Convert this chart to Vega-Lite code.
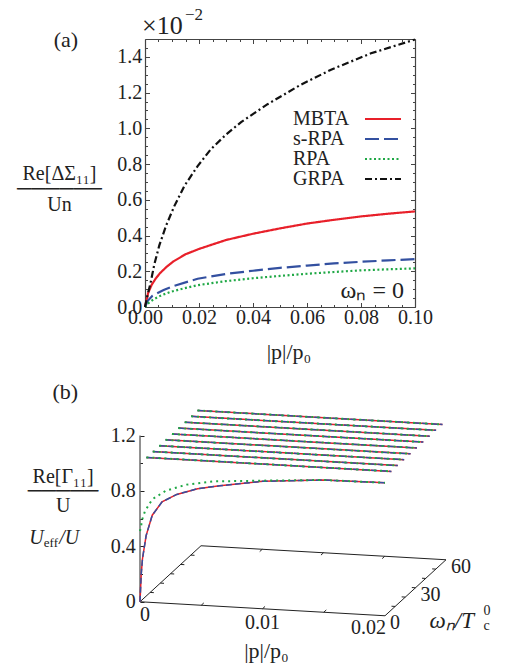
{
"$schema": "https://vega.github.io/schema/vega-lite/v6.json",
"padding": {"left": 16, "top": 6, "right": 5, "bottom": 5},
"spacing": 18,
"config": {"font": "Liberation Serif", "view": {"stroke": null},
  "axis": {"labelFont": "Liberation Serif", "titleFont": "Liberation Serif", "labelFontSize": 20, "labelColor": "#222", "titleColor": "#222", "titleFontWeight": "normal", "grid": false, "domainColor": "#444", "tickColor": "#444", "domainWidth": 1.2, "tickWidth": 1},
  "legend": {"labelFont": "Liberation Serif"},
  "text": {"font": "Liberation Serif", "color": "#222"}},
"resolve": {"scale": {"color": "independent", "strokeDash": "independent"}, "legend": {"color": "independent", "strokeDash": "independent"}},
"datasets": {
"a": [
{"s":"MBTA","p":0,"y":0},{"s":"MBTA","p":0.0012,"y":0.08},{"s":"MBTA","p":0.0025,"y":0.125},{"s":"MBTA","p":0.004,"y":0.16},{"s":"MBTA","p":0.0056,"y":0.19},{"s":"MBTA","p":0.008,"y":0.225},{"s":"MBTA","p":0.0105,"y":0.255},{"s":"MBTA","p":0.015,"y":0.295},{"s":"MBTA","p":0.02,"y":0.325},{"s":"MBTA","p":0.03,"y":0.375},{"s":"MBTA","p":0.04,"y":0.41},{"s":"MBTA","p":0.05,"y":0.44},{"s":"MBTA","p":0.06,"y":0.467},{"s":"MBTA","p":0.07,"y":0.488},{"s":"MBTA","p":0.08,"y":0.507},{"s":"MBTA","p":0.09,"y":0.522},{"s":"MBTA","p":0.1,"y":0.535},
{"s":"s-RPA","p":0,"y":0},{"s":"s-RPA","p":0.001,"y":0.035},{"s":"s-RPA","p":0.0028,"y":0.063},{"s":"s-RPA","p":0.0069,"y":0.095},{"s":"s-RPA","p":0.0109,"y":0.119},{"s":"s-RPA","p":0.0195,"y":0.158},{"s":"s-RPA","p":0.03,"y":0.185},{"s":"s-RPA","p":0.04,"y":0.203},{"s":"s-RPA","p":0.05,"y":0.219},{"s":"s-RPA","p":0.06,"y":0.232},{"s":"s-RPA","p":0.07,"y":0.244},{"s":"s-RPA","p":0.08,"y":0.253},{"s":"s-RPA","p":0.09,"y":0.261},{"s":"s-RPA","p":0.1,"y":0.268},
{"s":"RPA","p":0,"y":0},{"s":"RPA","p":0.0015,"y":0.025},{"s":"RPA","p":0.0034,"y":0.045},{"s":"RPA","p":0.006,"y":0.065},{"s":"RPA","p":0.0096,"y":0.085},{"s":"RPA","p":0.0145,"y":0.105},{"s":"RPA","p":0.0195,"y":0.122},{"s":"RPA","p":0.03,"y":0.145},{"s":"RPA","p":0.04,"y":0.161},{"s":"RPA","p":0.05,"y":0.174},{"s":"RPA","p":0.06,"y":0.186},{"s":"RPA","p":0.07,"y":0.196},{"s":"RPA","p":0.08,"y":0.205},{"s":"RPA","p":0.09,"y":0.211},{"s":"RPA","p":0.1,"y":0.216},
{"s":"GRPA","p":0,"y":0},{"s":"GRPA","p":0.001,"y":0.07},{"s":"GRPA","p":0.002,"y":0.13},{"s":"GRPA","p":0.0034,"y":0.235},{"s":"GRPA","p":0.0053,"y":0.345},{"s":"GRPA","p":0.0078,"y":0.455},{"s":"GRPA","p":0.0109,"y":0.566},{"s":"GRPA","p":0.0146,"y":0.678},{"s":"GRPA","p":0.0195,"y":0.789},{"s":"GRPA","p":0.0244,"y":0.883},{"s":"GRPA","p":0.03,"y":0.965},{"s":"GRPA","p":0.0356,"y":1.035},{"s":"GRPA","p":0.0454,"y":1.135},{"s":"GRPA","p":0.0578,"y":1.245},{"s":"GRPA","p":0.0689,"y":1.328},{"s":"GRPA","p":0.0837,"y":1.42},{"s":"GRPA","p":0.1,"y":1.497}
],
"b": [
{"k":"b","g":"f","p":0,"w":0,"z":0},{"k":"b","g":"f","p":0.02,"w":0,"z":0},
{"k":"b","g":"r","p":0.02,"w":0,"z":0},{"k":"b","g":"r","p":0.02,"w":60,"z":0},
{"k":"b","g":"bk","p":0.02,"w":60,"z":0},{"k":"b","g":"bk","p":0,"w":60,"z":0},
{"k":"b","g":"l","p":0,"w":60,"z":0},{"k":"b","g":"l","p":0,"w":0,"z":0},
{"k":"b","g":"v","p":0,"w":0,"z":0},{"k":"b","g":"v","p":0,"w":0,"z":1.2},
{"k":"b","g":"tf1","p":0.005,"w":0,"z":0},{"k":"b","g":"tf1","p":0.005,"w":2.5,"z":0},
{"k":"b","g":"tf2","p":0.01,"w":0,"z":0},{"k":"b","g":"tf2","p":0.01,"w":2.5,"z":0},
{"k":"b","g":"tf3","p":0.015,"w":0,"z":0},{"k":"b","g":"tf3","p":0.015,"w":2.5,"z":0},
{"k":"b","g":"tb1","p":0.005,"w":60,"z":0},{"k":"b","g":"tb1","p":0.005,"w":57.5,"z":0},
{"k":"b","g":"tb2","p":0.01,"w":60,"z":0},{"k":"b","g":"tb2","p":0.01,"w":57.5,"z":0},
{"k":"b","g":"tb3","p":0.015,"w":60,"z":0},{"k":"b","g":"tb3","p":0.015,"w":57.5,"z":0},
{"k":"b","g":"tl1","p":0,"w":10,"z":0},{"k":"b","g":"tl1","p":0.0003,"w":10,"z":0},
{"k":"b","g":"tl2","p":0,"w":20,"z":0},{"k":"b","g":"tl2","p":0.0003,"w":20,"z":0},
{"k":"b","g":"tl3","p":0,"w":30,"z":0},{"k":"b","g":"tl3","p":0.0003,"w":30,"z":0},
{"k":"b","g":"tl4","p":0,"w":40,"z":0},{"k":"b","g":"tl4","p":0.0003,"w":40,"z":0},
{"k":"b","g":"tl5","p":0,"w":50,"z":0},{"k":"b","g":"tl5","p":0.0003,"w":50,"z":0},
{"k":"b","g":"tr1","p":0.02,"w":10,"z":0},{"k":"b","g":"tr1","p":0.0197,"w":10,"z":0},
{"k":"b","g":"tr2","p":0.02,"w":20,"z":0},{"k":"b","g":"tr2","p":0.0197,"w":20,"z":0},
{"k":"b","g":"tr3","p":0.02,"w":30,"z":0},{"k":"b","g":"tr3","p":0.0197,"w":30,"z":0},
{"k":"b","g":"tr4","p":0.02,"w":40,"z":0},{"k":"b","g":"tr4","p":0.0197,"w":40,"z":0},
{"k":"b","g":"tr5","p":0.02,"w":50,"z":0},{"k":"b","g":"tr5","p":0.0197,"w":50,"z":0},
{"k":"c","s":"MBTA","w":0,"p":0,"z":0},{"k":"c","s":"MBTA","w":0,"p":0.0001,"z":0.2},{"k":"c","s":"MBTA","w":0,"p":0.0002,"z":0.31},{"k":"c","s":"MBTA","w":0,"p":0.0005,"z":0.48},{"k":"c","s":"MBTA","w":0,"p":0.001,"z":0.63},{"k":"c","s":"MBTA","w":0,"p":0.0018,"z":0.73},{"k":"c","s":"MBTA","w":0,"p":0.003,"z":0.79},{"k":"c","s":"MBTA","w":0,"p":0.0047,"z":0.84},{"k":"c","s":"MBTA","w":0,"p":0.0065,"z":0.87},{"k":"c","s":"MBTA","w":0,"p":0.01,"z":0.92},{"k":"c","s":"MBTA","w":0,"p":0.015,"z":0.955},{"k":"c","s":"MBTA","w":0,"p":0.02,"z":0.96},
{"k":"c","s":"s-RPA","w":0,"p":0,"z":0},{"k":"c","s":"s-RPA","w":0,"p":0.0001,"z":0.2},{"k":"c","s":"s-RPA","w":0,"p":0.0002,"z":0.31},{"k":"c","s":"s-RPA","w":0,"p":0.0005,"z":0.48},{"k":"c","s":"s-RPA","w":0,"p":0.001,"z":0.63},{"k":"c","s":"s-RPA","w":0,"p":0.0018,"z":0.73},{"k":"c","s":"s-RPA","w":0,"p":0.003,"z":0.79},{"k":"c","s":"s-RPA","w":0,"p":0.0047,"z":0.84},{"k":"c","s":"s-RPA","w":0,"p":0.0065,"z":0.87},{"k":"c","s":"s-RPA","w":0,"p":0.01,"z":0.92},{"k":"c","s":"s-RPA","w":0,"p":0.015,"z":0.955},{"k":"c","s":"s-RPA","w":0,"p":0.02,"z":0.96},
{"k":"c","s":"RPA","w":0,"p":0,"z":0.51},{"k":"c","s":"RPA","w":0,"p":0.0002,"z":0.6},{"k":"c","s":"RPA","w":0,"p":0.0004,"z":0.655},{"k":"c","s":"RPA","w":0,"p":0.001,"z":0.745},{"k":"c","s":"RPA","w":0,"p":0.0021,"z":0.812},{"k":"c","s":"RPA","w":0,"p":0.0038,"z":0.865},{"k":"c","s":"RPA","w":0,"p":0.006,"z":0.9},{"k":"c","s":"RPA","w":0,"p":0.008,"z":0.912},{"k":"c","s":"RPA","w":0,"p":0.01,"z":0.925},{"k":"c","s":"RPA","w":0,"p":0.015,"z":0.955},{"k":"c","s":"RPA","w":0,"p":0.02,"z":0.96},
{"k":"c","s":"MBTA","w":6.283,"p":0,"z":1},{"k":"c","s":"MBTA","w":6.283,"p":0.02,"z":1},
{"k":"c","s":"MBTA","w":12.566,"p":0,"z":1},{"k":"c","s":"MBTA","w":12.566,"p":0.02,"z":1},
{"k":"c","s":"MBTA","w":18.85,"p":0,"z":1},{"k":"c","s":"MBTA","w":18.85,"p":0.02,"z":1},
{"k":"c","s":"MBTA","w":25.133,"p":0,"z":1},{"k":"c","s":"MBTA","w":25.133,"p":0.02,"z":1},
{"k":"c","s":"MBTA","w":31.416,"p":0,"z":1},{"k":"c","s":"MBTA","w":31.416,"p":0.02,"z":1},
{"k":"c","s":"MBTA","w":37.699,"p":0,"z":1},{"k":"c","s":"MBTA","w":37.699,"p":0.02,"z":1},
{"k":"c","s":"MBTA","w":43.982,"p":0,"z":1},{"k":"c","s":"MBTA","w":43.982,"p":0.02,"z":1},
{"k":"c","s":"MBTA","w":50.265,"p":0,"z":1},{"k":"c","s":"MBTA","w":50.265,"p":0.02,"z":1},
{"k":"c","s":"MBTA","w":56.549,"p":0,"z":1},{"k":"c","s":"MBTA","w":56.549,"p":0.02,"z":1},
{"k":"c","s":"s-RPA","w":6.283,"p":0,"z":1},{"k":"c","s":"s-RPA","w":6.283,"p":0.02,"z":1},
{"k":"c","s":"s-RPA","w":12.566,"p":0,"z":1},{"k":"c","s":"s-RPA","w":12.566,"p":0.02,"z":1},
{"k":"c","s":"s-RPA","w":18.85,"p":0,"z":1},{"k":"c","s":"s-RPA","w":18.85,"p":0.02,"z":1},
{"k":"c","s":"s-RPA","w":25.133,"p":0,"z":1},{"k":"c","s":"s-RPA","w":25.133,"p":0.02,"z":1},
{"k":"c","s":"s-RPA","w":31.416,"p":0,"z":1},{"k":"c","s":"s-RPA","w":31.416,"p":0.02,"z":1},
{"k":"c","s":"s-RPA","w":37.699,"p":0,"z":1},{"k":"c","s":"s-RPA","w":37.699,"p":0.02,"z":1},
{"k":"c","s":"s-RPA","w":43.982,"p":0,"z":1},{"k":"c","s":"s-RPA","w":43.982,"p":0.02,"z":1},
{"k":"c","s":"s-RPA","w":50.265,"p":0,"z":1},{"k":"c","s":"s-RPA","w":50.265,"p":0.02,"z":1},
{"k":"c","s":"s-RPA","w":56.549,"p":0,"z":1},{"k":"c","s":"s-RPA","w":56.549,"p":0.02,"z":1},
{"k":"c","s":"RPA","w":6.283,"p":0,"z":1},{"k":"c","s":"RPA","w":6.283,"p":0.02,"z":1},
{"k":"c","s":"RPA","w":12.566,"p":0,"z":1},{"k":"c","s":"RPA","w":12.566,"p":0.02,"z":1},
{"k":"c","s":"RPA","w":18.85,"p":0,"z":1},{"k":"c","s":"RPA","w":18.85,"p":0.02,"z":1},
{"k":"c","s":"RPA","w":25.133,"p":0,"z":1},{"k":"c","s":"RPA","w":25.133,"p":0.02,"z":1},
{"k":"c","s":"RPA","w":31.416,"p":0,"z":1},{"k":"c","s":"RPA","w":31.416,"p":0.02,"z":1},
{"k":"c","s":"RPA","w":37.699,"p":0,"z":1},{"k":"c","s":"RPA","w":37.699,"p":0.02,"z":1},
{"k":"c","s":"RPA","w":43.982,"p":0,"z":1},{"k":"c","s":"RPA","w":43.982,"p":0.02,"z":1},
{"k":"c","s":"RPA","w":50.265,"p":0,"z":1},{"k":"c","s":"RPA","w":50.265,"p":0.02,"z":1},
{"k":"c","s":"RPA","w":56.549,"p":0,"z":1},{"k":"c","s":"RPA","w":56.549,"p":0.02,"z":1},
{"k":"pl","p":0,"w":0,"z":0,"t":"0"},{"k":"pl","p":0.01,"w":0,"z":0,"t":"0.01"},{"k":"pl","p":0.02,"w":0,"z":0,"t":"0.02"},
{"k":"wl","p":0.02,"w":0,"z":0,"t":"0"},{"k":"wl","p":0.02,"w":30,"z":0,"t":"30"},{"k":"wl","p":0.02,"w":60,"z":0,"t":"60"},
{"k":"wt","p":0.02,"w":30,"z":0}
]
},
"vconcat": [
{
 "width": 270, "height": 268,
 "data": {"name": "a"},
 "resolve": {"axis": {"x": "independent", "y": "independent"}},
 "layer": [
  {
   "mark": {"type": "line", "strokeWidth": 2.2},
   "encoding": {
    "x": {"field": "p", "type": "quantitative", "scale": {"domain": [0, 0.1], "nice": false, "zero": false},
      "axis": {"orient": "bottom", "values": [0, 0.02, 0.04, 0.06, 0.08, 0.1], "format": ".2f", "tickSize": -4.5, "labelPadding": 4.5, "labelFlush": false, "labelOverlap": false,
        "title": "|p|/p₀", "titleFontSize": 22, "titleX": 143.5, "titleY": 44, "titleBaseline": "middle", "titleAlign": "center"}},
    "y": {"field": "y", "type": "quantitative", "scale": {"domain": [0, 1.5], "nice": false, "zero": false},
      "axis": {"orient": "left", "values": [0, 0.2, 0.4, 0.6, 0.8, 1.0, 1.2, 1.4], "format": ".1f", "tickSize": -4.5, "labelPadding": 7.8, "labelOverlap": false, "labelFlush": false,
        "title": ["Re[ΔΣ₁₁]", "──────", "Un"], "titleAngle": 0, "titleX": -86, "titleY": 134, "titleAlign": "center", "titleBaseline": "middle", "titleLineHeight": 15.5, "titleFontSize": 20}},
    "color": {"field": "s", "type": "nominal", "scale": {"domain": ["MBTA", "s-RPA", "RPA", "GRPA"], "range": ["#e8202a", "#3350a0", "#1fa845", "#111111"]},
      "legend": {"orient": "none", "legendX": 228, "legendY": 70, "title": null, "symbolType": "M-3,0H3", "symbolSize": 144, "symbolStrokeWidth": 2.2, "labelFontSize": 20, "labelFont": "Liberation Serif", "labelOffset": -100, "labelAlign": "left", "labelColor": "#222", "rowPadding": 0}},
    "strokeDash": {"field": "s", "type": "nominal", "scale": {"domain": ["MBTA", "s-RPA", "RPA", "GRPA"], "range": [[1, 0], [14, 5], [2, 2.5], [7, 3, 2, 3]]},
      "legend": {"orient": "none", "legendX": 228, "legendY": 70, "title": null, "symbolType": "M-3,0H3", "symbolSize": 144, "symbolStrokeWidth": 2.2, "labelFontSize": 20, "labelFont": "Liberation Serif", "labelOffset": -100, "labelAlign": "left", "labelColor": "#222", "rowPadding": 0}}
   }
  },
  {
   "data": {"values": [{"p": 0, "y": 0}]},
   "mark": {"type": "point", "opacity": 0},
   "encoding": {
    "x": {"field": "p", "type": "quantitative", "scale": {"domain": [0, 0.1], "nice": false, "zero": false},
      "axis": {"orient": "bottom", "values": [0.005, 0.01, 0.015, 0.025, 0.03, 0.035, 0.045, 0.05, 0.055, 0.065, 0.07, 0.075, 0.085, 0.09, 0.095], "tickSize": -2.5, "labels": false, "domain": false, "title": null}},
    "y": {"field": "y", "type": "quantitative", "scale": {"domain": [0, 1.5], "nice": false, "zero": false},
      "axis": {"orient": "left", "values": [0.05, 0.1, 0.15, 0.25, 0.3, 0.35, 0.45, 0.5, 0.55, 0.65, 0.7, 0.75, 0.85, 0.9, 0.95, 1.05, 1.1, 1.15, 1.25, 1.3, 1.35, 1.45], "tickSize": -2.5, "labels": false, "domain": false, "title": null}}
   }
  },
  {
   "data": {"values": [{"p": 0, "y": 0}]},
   "mark": {"type": "point", "opacity": 0},
   "encoding": {
    "x": {"field": "p", "type": "quantitative", "scale": {"domain": [0, 0.1], "nice": false, "zero": false},
      "axis": {"orient": "top", "values": [0, 0.02, 0.04, 0.06, 0.08, 0.1], "tickSize": -4.5, "labels": false, "title": null}},
    "y": {"field": "y", "type": "quantitative", "scale": {"domain": [0, 1.5], "nice": false, "zero": false},
      "axis": {"orient": "right", "values": [0, 0.2, 0.4, 0.6, 0.8, 1.0, 1.2, 1.4], "tickSize": -4.5, "labels": false, "title": null}}
   }
  },
  {
   "data": {"values": [{"p": 0, "y": 0}]},
   "mark": {"type": "point", "opacity": 0},
   "encoding": {
    "x": {"field": "p", "type": "quantitative", "scale": {"domain": [0, 0.1], "nice": false, "zero": false},
      "axis": {"orient": "top", "values": [0.005, 0.01, 0.015, 0.025, 0.03, 0.035, 0.045, 0.05, 0.055, 0.065, 0.07, 0.075, 0.085, 0.09, 0.095], "tickSize": -2.5, "labels": false, "domain": false, "title": null}},
    "y": {"field": "y", "type": "quantitative", "scale": {"domain": [0, 1.5], "nice": false, "zero": false},
      "axis": {"orient": "right", "values": [0.05, 0.1, 0.15, 0.25, 0.3, 0.35, 0.45, 0.5, 0.55, 0.65, 0.7, 0.75, 0.85, 0.9, 0.95, 1.05, 1.1, 1.15, 1.25, 1.3, 1.35, 1.45], "tickSize": -2.5, "labels": false, "domain": false, "title": null}}
   }
  },
  {
   "data": {"values": [{}]},
   "mark": {"type": "text", "text": "×10", "font": "Liberation Serif", "align": "left", "baseline": "alphabetic", "fontSize": 26, "dx": -3, "dy": -5},
   "encoding": {"x": {"datum": 0, "type": "quantitative", "axis": null}, "y": {"datum": 1.5, "type": "quantitative", "axis": null}}
  },
  {
   "data": {"values": [{}]},
   "mark": {"type": "text", "text": "−2", "font": "Liberation Serif", "align": "left", "baseline": "alphabetic", "fontSize": 17, "dx": 40, "dy": -19},
   "encoding": {"x": {"datum": 0, "type": "quantitative", "axis": null}, "y": {"datum": 1.5, "type": "quantitative", "axis": null}}
  },
  {
   "data": {"values": [{}]},
   "mark": {"type": "text", "text": "(a)", "font": "Liberation Serif", "align": "center", "baseline": "middle", "fontSize": 22},
   "encoding": {"x": {"datum": -0.0293, "type": "quantitative", "axis": null}, "y": {"datum": 1.496, "type": "quantitative", "axis": null}}
  },
  {
   "data": {"values": [{}]},
   "mark": {"type": "text", "text": "ωₙ = 0", "font": "Liberation Serif", "align": "right", "baseline": "middle", "fontSize": 24},
   "encoding": {"x": {"datum": 0.0959, "type": "quantitative", "axis": null}, "y": {"datum": 0.0894, "type": "quantitative", "axis": null}}
  }
 ]
},
{
 "width": 306, "height": 209,
 "data": {"name": "b"},
 "transform": [
  {"calculate": "datum.p*12250 + datum.w*1.01667", "as": "u"},
  {"calculate": "datum.z + (datum.w*0.93333 - datum.p*700)/138.5", "as": "zz"}
 ],
 "resolve": {"axis": {"x": "independent", "y": "independent"}},
 "layer": [
  {
   "transform": [{"filter": "datum.k == 'b'"}],
   "mark": {"type": "line", "color": "#222", "strokeWidth": 1},
   "encoding": {
    "x": {"field": "u", "type": "quantitative", "scale": {"domain": [5, 311], "nice": false, "zero": false},
      "axis": {"orient": "bottom", "domain": false, "ticks": false, "labels": false, "title": "|p|/p₀", "titleFontSize": 22, "titleX": 121, "titleY": 33, "titleBaseline": "middle", "titleAlign": "center"}},
    "y": {"field": "zz", "type": "quantitative", "scale": {"domain": [-0.11, 1.399], "nice": false, "zero": false},
      "axis": {"orient": "left", "offset": 5, "domain": false, "values": [0, 0.4, 0.8, 1.2], "labelExpr": "datum.value == 0 ? '0' : format(datum.value, '.1f')", "tickSize": -4, "tickColor": "#222", "labelPadding": 8.7, "labelOverlap": false, "labelFlush": false,
        "title": ["Re[Γ₁₁]", "─────", "U"], "titleAngle": 0, "titleX": -77.4, "titleY": 68, "titleAlign": "center", "titleBaseline": "middle", "titleLineHeight": 14.5, "titleFontSize": 20}},
    "detail": {"field": "g"}
   }
  },
  {
   "transform": [{"filter": "datum.k == 'b'"}],
   "mark": {"type": "point", "opacity": 0},
   "encoding": {
    "x": {"field": "u", "type": "quantitative", "scale": {"domain": [5, 311], "nice": false, "zero": false}, "axis": null},
    "y": {"field": "zz", "type": "quantitative", "scale": {"domain": [-0.11, 1.399], "nice": false, "zero": false},
      "axis": {"orient": "left", "offset": 5, "domain": false, "values": [0.2, 0.6, 1.0], "tickSize": -2.5, "tickColor": "#222", "labels": false, "title": null}}
   }
  },
  {
   "transform": [{"filter": "datum.k == 'c' && datum.s == 'MBTA'"}],
   "mark": {"type": "line", "color": "#e8202a", "strokeWidth": 1.5},
   "encoding": {"x": {"field": "u", "type": "quantitative", "axis": null}, "y": {"field": "zz", "type": "quantitative", "axis": null}, "detail": {"field": "w"}}
  },
  {
   "transform": [{"filter": "datum.k == 'c' && datum.s == 's-RPA'"}],
   "mark": {"type": "line", "color": "#3350a0", "strokeWidth": 1.5, "strokeDash": [6, 3]},
   "encoding": {"x": {"field": "u", "type": "quantitative", "axis": null}, "y": {"field": "zz", "type": "quantitative", "axis": null}, "detail": {"field": "w"}}
  },
  {
   "transform": [{"filter": "datum.k == 'c' && datum.s == 'RPA'"}],
   "mark": {"type": "line", "color": "#1fa845", "strokeWidth": 2, "strokeDash": [2, 4]},
   "encoding": {"x": {"field": "u", "type": "quantitative", "axis": null}, "y": {"field": "zz", "type": "quantitative", "axis": null}, "detail": {"field": "w"}}
  },
  {
   "transform": [{"filter": "datum.k == 'pl' && datum.p == 0"}],
   "mark": {"type": "text", "font": "Liberation Serif", "align": "left", "baseline": "middle", "fontSize": 20, "dy": 13},
   "encoding": {"x": {"field": "u", "type": "quantitative", "axis": null}, "y": {"field": "zz", "type": "quantitative", "axis": null}, "text": {"field": "t"}}
  },
  {
   "transform": [{"filter": "datum.k == 'pl' && datum.p == 0.01"}],
   "mark": {"type": "text", "font": "Liberation Serif", "align": "center", "baseline": "middle", "fontSize": 20, "dy": 14},
   "encoding": {"x": {"field": "u", "type": "quantitative", "axis": null}, "y": {"field": "zz", "type": "quantitative", "axis": null}, "text": {"field": "t"}}
  },
  {
   "transform": [{"filter": "datum.k == 'pl' && datum.p == 0.02"}],
   "mark": {"type": "text", "font": "Liberation Serif", "align": "right", "baseline": "middle", "fontSize": 20, "dy": 12, "dx": 1},
   "encoding": {"x": {"field": "u", "type": "quantitative", "axis": null}, "y": {"field": "zz", "type": "quantitative", "axis": null}, "text": {"field": "t"}}
  },
  {
   "transform": [{"filter": "datum.k == 'wl'"}],
   "mark": {"type": "text", "font": "Liberation Serif", "align": "left", "baseline": "middle", "fontSize": 20, "dx": 5, "dy": 7},
   "encoding": {"x": {"field": "u", "type": "quantitative", "axis": null}, "y": {"field": "zz", "type": "quantitative", "axis": null}, "text": {"field": "t"}}
  },
  {
   "transform": [{"filter": "datum.k == 'wt'"}],
   "mark": {"type": "text", "text": "ωₙ/T", "font": "Liberation Serif", "align": "left", "baseline": "middle", "fontSize": 23, "fontStyle": "italic", "dx": 14, "dy": 33},
   "encoding": {"x": {"field": "u", "type": "quantitative", "axis": null}, "y": {"field": "zz", "type": "quantitative", "axis": null}}
  },
  {
   "transform": [{"filter": "datum.k == 'wt'"}],
   "mark": {"type": "text", "text": "0", "font": "Liberation Serif", "align": "left", "baseline": "middle", "fontSize": 14, "dx": 68, "dy": 23},
   "encoding": {"x": {"field": "u", "type": "quantitative", "axis": null}, "y": {"field": "zz", "type": "quantitative", "axis": null}}
  },
  {
   "transform": [{"filter": "datum.k == 'wt'"}],
   "mark": {"type": "text", "text": "c", "font": "Liberation Serif", "align": "left", "baseline": "middle", "fontSize": 14, "dx": 68, "dy": 38},
   "encoding": {"x": {"field": "u", "type": "quantitative", "axis": null}, "y": {"field": "zz", "type": "quantitative", "axis": null}}
  },
  {
   "data": {"values": [{}]},
   "mark": {"type": "text", "text": "U", "font": "Liberation Serif", "align": "left", "baseline": "middle", "fontSize": 20, "fontStyle": "italic"},
   "encoding": {"x": {"datum": -110.7, "type": "quantitative", "axis": null}, "y": {"datum": 0.462, "type": "quantitative", "axis": null}}
  },
  {
   "data": {"values": [{}]},
   "mark": {"type": "text", "text": "eff", "font": "Liberation Serif", "align": "left", "baseline": "middle", "fontSize": 13, "dx": 14.5, "dy": 5},
   "encoding": {"x": {"datum": -110.7, "type": "quantitative", "axis": null}, "y": {"datum": 0.462, "type": "quantitative", "axis": null}}
  },
  {
   "data": {"values": [{}]},
   "mark": {"type": "text", "text": "/U", "font": "Liberation Serif", "align": "left", "baseline": "middle", "fontSize": 20, "fontStyle": "italic", "dx": 30},
   "encoding": {"x": {"datum": -110.7, "type": "quantitative", "axis": null}, "y": {"datum": 0.462, "type": "quantitative", "axis": null}}
  },
  {
   "data": {"values": [{}]},
   "mark": {"type": "text", "text": "(b)", "font": "Liberation Serif", "align": "center", "baseline": "middle", "fontSize": 22},
   "encoding": {"x": {"datum": -74.7, "type": "quantitative", "axis": null}, "y": {"datum": 1.517, "type": "quantitative", "axis": null}}
  }
 ]
}
]
}
